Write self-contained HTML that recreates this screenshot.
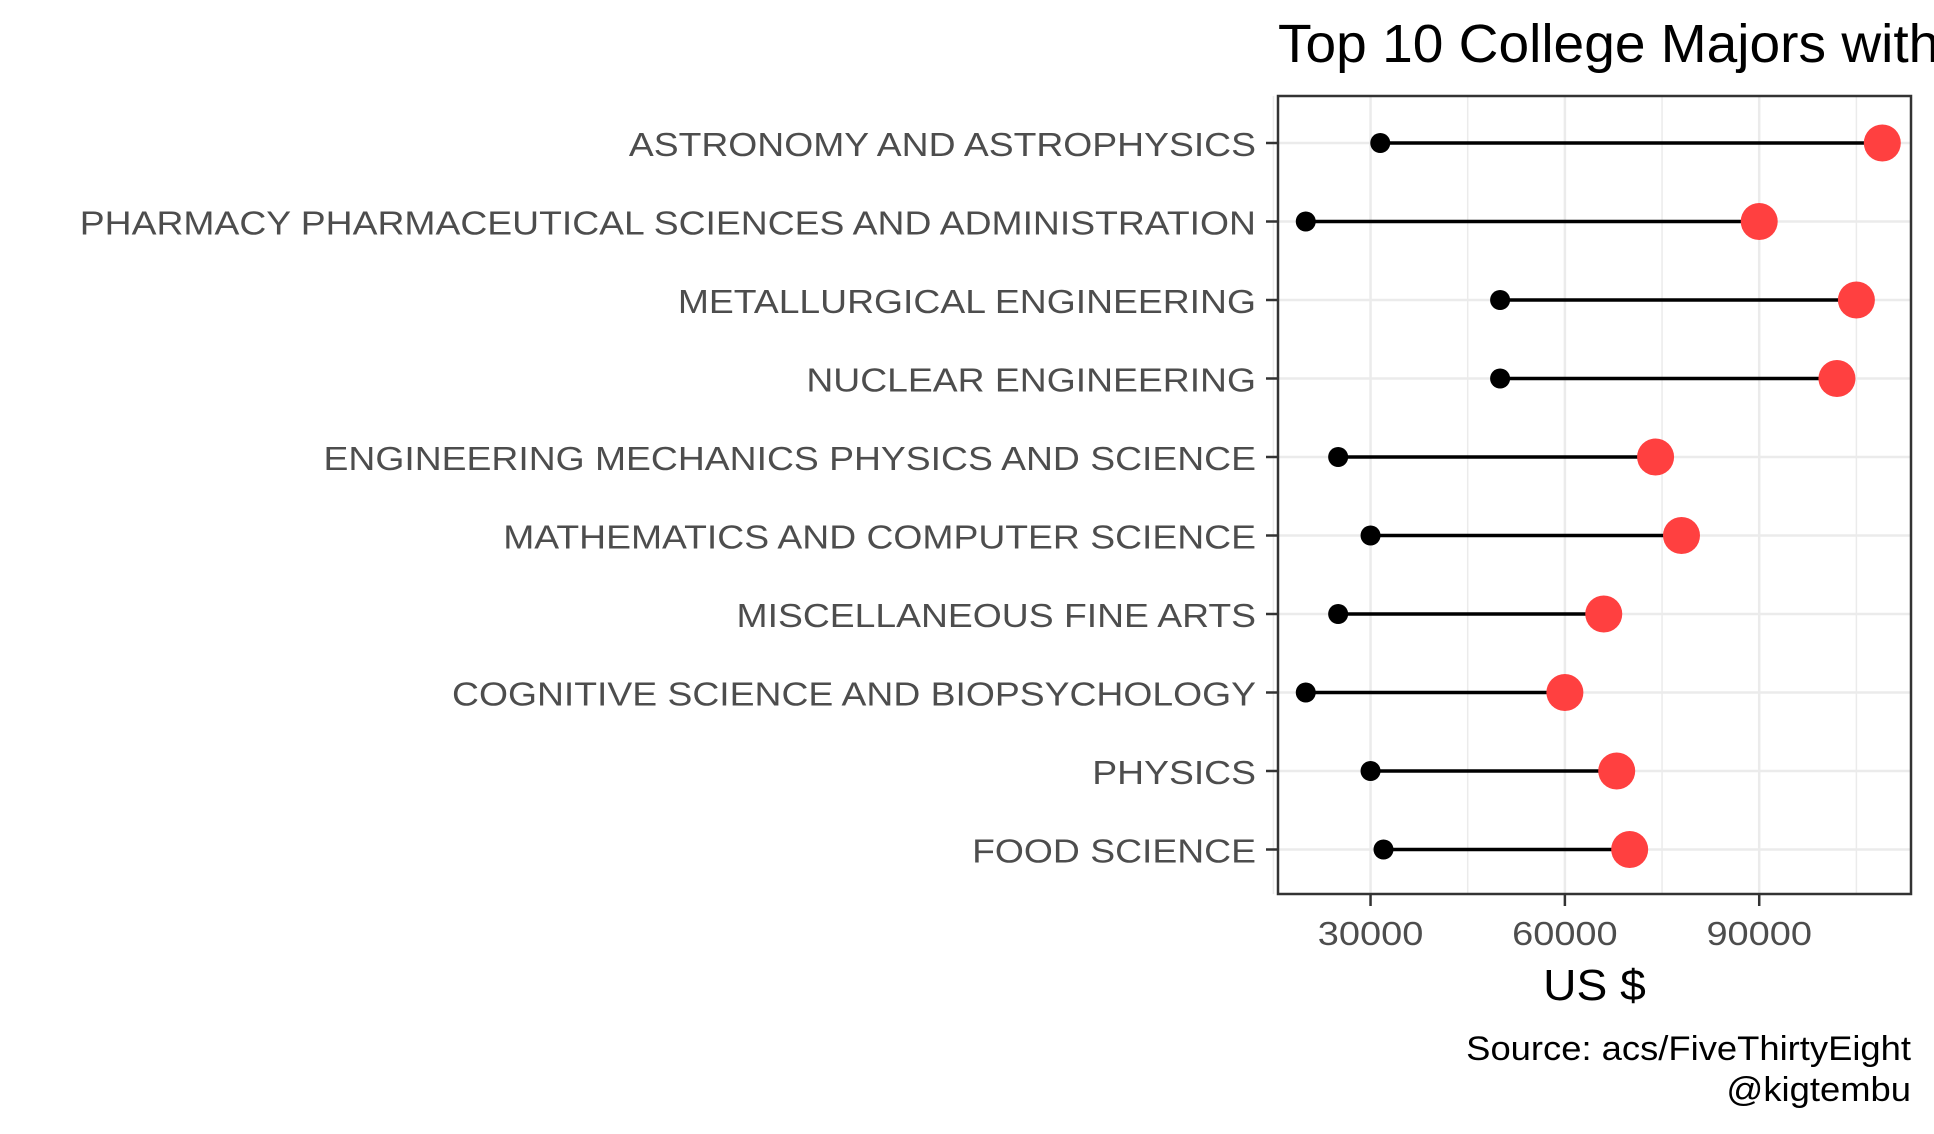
<!DOCTYPE html>
<html><head><meta charset="utf-8"><style>
html,body{margin:0;padding:0;background:#fff;}
svg{display:block;font-family:"Liberation Sans",Arial,sans-serif;}
</style></head><body>
<svg id="chart" width="1934" height="1134" viewBox="0 0 1934 1134"></svg>
<script>
const categories=["ASTRONOMY AND ASTROPHYSICS","PHARMACY PHARMACEUTICAL SCIENCES AND ADMINISTRATION","METALLURGICAL ENGINEERING","NUCLEAR ENGINEERING","ENGINEERING MECHANICS PHYSICS AND SCIENCE","MATHEMATICS AND COMPUTER SCIENCE","MISCELLANEOUS FINE ARTS","COGNITIVE SCIENCE AND BIOPSYCHOLOGY","PHYSICS","FOOD SCIENCE"];
const lowValues=[31500,20000,50000,50000,25000,30000,25000,20000,30000,32000];
const highValues=[109000,90000,105000,102000,74000,78000,66000,60000,68000,70000];
const majorTicks=[30000,60000,90000];
const minorTicks=[15000,45000,75000,105000];
const tickLabels=["30000","60000","90000"];

const NS="http://www.w3.org/2000/svg";
const svg=document.getElementById('chart');
const L=1278,R=1911,T=96,B=894;
const xmin=15714,xmax=113430;
const x=v=>L+(v-xmin)/(xmax-xmin)*(R-L);
const y0=143,dy=78.5;
const y=i=>y0+i*dy;
function mk(tag,attrs,parent){const e=document.createElementNS(NS,tag);for(const k in attrs)e.setAttribute(k,attrs[k]);(parent||svg).appendChild(e);return e;}
function widen(el,f){const w=el.getComputedTextLength();el.setAttribute('textLength',w*f);el.setAttribute('lengthAdjust','spacingAndGlyphs');}

let t=mk('text',{x:L,y:62,'font-size':54,fill:'#000'});


t.textContent='Top 10 College Majors with Highest Salaries';
widen(t,1.02);

const grid=mk('g',{});


minorTicks.forEach(v=>{const l=mk('line',{x1:x(v),x2:x(v),y1:T,y2:B,stroke:'#ebebeb','stroke-width':1.5},grid);});
majorTicks.forEach(v=>{const l=mk('line',{x1:x(v),x2:x(v),y1:T,y2:B,stroke:'#ebebeb','stroke-width':2.5},grid);});
categories.forEach((c,i)=>{const l=mk('line',{x1:L,x2:R,y1:y(i),y2:y(i),stroke:'#ebebeb','stroke-width':2.5},grid);});

categories.forEach((c,i)=>{
  const g=mk('g',{});
  
  
  const ln=mk('line',{x1:x(lowValues[i]),x2:x(highValues[i]),y1:y(i),y2:y(i),stroke:'#000','stroke-width':3.5},g);
  
  
  const d1=mk('circle',{cx:x(lowValues[i]),cy:y(i),r:10,fill:'#000'},g);
  
  
  const d2=mk('circle',{cx:x(highValues[i]),cy:y(i),r:18.5,fill:'#ff4040'},g);
  
  
  const tk=mk('line',{x1:L-12,x2:L,y1:y(i),y2:y(i),stroke:'#333','stroke-width':2.5});
  
  
  const lb=mk('text',{x:L-22,y:y(i)+13,'font-size':33,fill:'#4d4d4d','text-anchor':'end'});
  
  
  lb.textContent=c;
  widen(lb,1.13);
});
const fr=mk('rect',{x:L,y:T,width:R-L,height:B-T,fill:'none',stroke:'#333','stroke-width':2.5});


majorTicks.forEach((v,i)=>{
  const tk=mk('line',{x1:x(v),x2:x(v),y1:B,y2:B+12,stroke:'#333','stroke-width':2.5});
  
  
  const lb=mk('text',{x:x(v),y:945,'font-size':33,fill:'#4d4d4d','text-anchor':'middle'});
  
  
  lb.textContent=tickLabels[i];
  widen(lb,1.15);
});
t=mk('text',{x:(L+R)/2,y:1000,'font-size':44,fill:'#000','text-anchor':'middle'});


t.textContent='US $';
widen(t,1.05);
t=mk('text',{x:R,y:1060,'font-size':34,fill:'#000','text-anchor':'end'});


t.textContent='Source: acs/FiveThirtyEight';
widen(t,1.07);
t=mk('text',{x:R,y:1101,'font-size':34,fill:'#000','text-anchor':'end'});


t.textContent='@kigtembu';
widen(t,1.07);
</script>
</body></html>
